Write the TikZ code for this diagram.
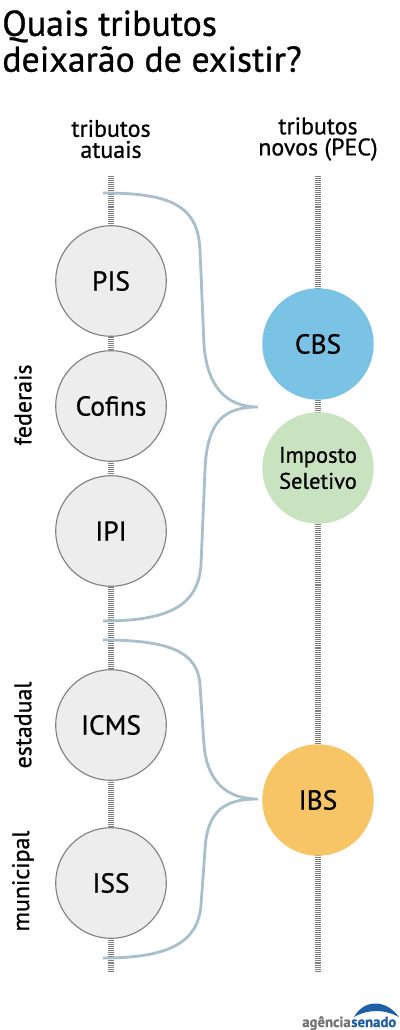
\documentclass[tikz,border=0pt]{standalone}
\usepackage{fontspec}
\setmainfont[FakeBold=0.8]{PT Sans}
\usetikzlibrary{backgrounds}
\definecolor{tribgray}{HTML}{EDEDED}
\definecolor{tribblue}{HTML}{7BC3E4}
\definecolor{tribgreen}{HTML}{C9E2C0}
\definecolor{tribyellow}{HTML}{F8C566}
\definecolor{bracecolor}{HTML}{A9BFCC}
\definecolor{logoblue}{HTML}{1F5FA5}
\tikzset{
	oldtax/.style={circle, draw=black!50, line width=0.8pt, fill=tribgray, minimum size=3.95cm*0.7, inner sep=0pt, font=\fontsize{19.5}{21}\selectfont},
	newtax/.style={circle, fill=#1, minimum size=3.98cm*0.7, inner sep=0pt, font=\fontsize{19.5}{21}\selectfont, align=center},
	headtext/.style={font=\fontsize{17}{15}\selectfont, align=center},
	sidetext/.style={font=\fontsize{17}{18}\selectfont, rotate=90},
	track/.style={line width=3.6pt, black!50, dash pattern=on 0.7pt off 0.7pt},
	bracket/.style={line width=2pt, bracecolor}
}

\begin{document}
\begin{tikzpicture}[x=0.025cm, y=-0.025cm]
      \useasboundingbox (0,0) rectangle (400,1030);

      % title
      \node[anchor=north west, inner sep=0pt, align=left, font=\fontsize{25.5}{25.5}\selectfont] (title) at (2,10) {Quais tributos\\deixarão de existir?};

      % column heads
      \node[headtext] (headold) at (111,139) {tributos\\atuais};
      \node[headtext] (headnew) at (318,139) {tributos\\novos (PEC)};

      % current taxes
      \node[oldtax] (pis) at (111,281) {PIS};
      \node[oldtax] (cofins) at (111,406) {Cofins};
      \node[oldtax] (ipi) at (111,531) {IPI};
      \node[oldtax] (icms) at (111,725) {ICMS};
      \node[oldtax] (iss) at (111,883) {ISS};

      % new taxes
      \node[newtax=tribblue] (cbs) at (318,344) {CBS};
      \node[newtax=tribgreen, font=\fontsize{16}{18.5}\selectfont] (seletivo) at (318,468) {Imposto\\Seletivo};
      \node[newtax=tribyellow] (ibs) at (318,800) {IBS};

      % side labels
      \node[sidetext] (federais) at (23,405) {federais};
      \node[sidetext] (estadual) at (23,725) {estadual};
      \node[sidetext] (municipal) at (23,881) {municipal};

      \coordinate (oldtop) at (111,176);
      \coordinate (oldend) at (111,972);
      \coordinate (newtop) at (318,176);
      \coordinate (newend) at (318,972);

      % dotted tracks behind the circles
      \begin{scope}[on background layer]
        \draw[track] (oldtop) -- (oldend);
        \draw[track] (newtop) -- (newend);
      \end{scope}

      % brace to CBS and Imposto Seletivo
      \coordinate (fedtop) at (103,193);
      \coordinate (fedtip) at (258,407);
      \coordinate (fedend) at (103,621);
      \draw[bracket] (fedtop) .. controls (170,193) and (198,205) .. (200,250)
        -- (204,345)
        .. controls (207,385) and (225,407) .. (fedtip)
        .. controls (225,407) and (207,420) .. (205,470)
        -- (201,565)
        .. controls (198,605) and (170,621) .. (fedend);

      % brace to IBS
      \coordinate (imptop) at (103,640);
      \coordinate (imptip) at (258,799);
      \coordinate (impend) at (103,958);
      \draw[bracket] (imptop) .. controls (170,640) and (198,652) .. (200,685)
        -- (204,745)
        .. controls (207,780) and (225,799) .. (imptip)
        .. controls (225,799) and (207,810) .. (205,850)
        -- (201,905)
        .. controls (198,942) and (170,958) .. (impend);

      % logo
      \node[anchor=base east, inner sep=0pt, text=black!55, font=\fontsize{10.5}{12}\selectfont\bfseries] (logoa) at (351,1027) {agência};
      \node[anchor=base west, inner sep=0pt, text=logoblue, font=\fontsize{10.5}{12}\selectfont\bfseries] (logob) at (351,1027) {senado};
      \fill[logoblue] (354,1017) .. controls (364,999) and (386,999) .. (399,1017)
        .. controls (384,1009) and (368,1009) .. cycle;
\end{tikzpicture}
\end{document}
